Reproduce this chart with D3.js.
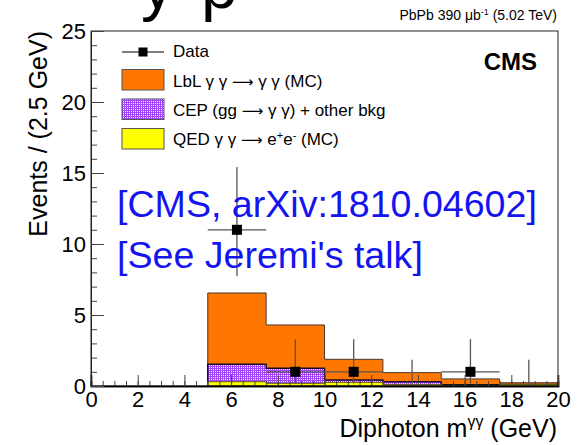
<!DOCTYPE html>
<html>
<head>
<meta charset="utf-8">
<script src="https://cdn.jsdelivr.net/npm/d3@7"></script>
<style>
  html, body { margin: 0; padding: 0; background: #fff; }
  svg { display: block; font-family: "Liberation Sans", Arial, Helvetica, sans-serif; }
</style>
</head>
<body>
<svg id="chart" width="581" height="445"></svg>
<script>
// Diphoton invariant mass, 2.5 GeV bins from 5 to 20 GeV
const binEdges = [5, 7.5, 10, 12.5, 15, 17.5, 20];
// stacked expectations (bottom to top)
const qedValues = [0.30, 0.19, 0.26, 0.09, 0.03, 0.10];
const cepValues = [1.23, 1.06, 0.16, 0.21, 0.05, 0.00];
const lblValues = [5.02, 3.05, 1.46, 0.64, 0.42, 0.13];
// observed events with Poisson (Garwood) intervals
const dataCounts = [11, 1, 1, 0, 1, 0];
const dataErrLow = [3.26, 0.83, 0.83, 0, 0.83, 0];
const dataErrHigh = [4.42, 2.30, 2.30, 1.84, 2.30, 1.84];

const xTicks = [0, 2, 4, 6, 8, 10, 12, 14, 16, 18, 20];
const yTicks = [0, 5, 10, 15, 20, 25];

const svg = d3.select("#chart");
const plot = { left: 91, right: 558, top: 31, bottom: 386 };

const x = d3.scaleLinear().domain([0, 20]).range([plot.left, plot.right]);
const y = d3.scaleLinear().domain([0, 25]).range([plot.bottom, plot.top]);

// dotted fill for the CEP component
const defs = svg.append("defs");
const pat = defs.append("pattern").attr("id", "cepFill")
  .attr("patternUnits", "userSpaceOnUse").attr("width", 2).attr("height", 2);
pat.append("rect").attr("width", 2).attr("height", 2).attr("fill", "#a245ff");
pat.append("rect").attr("x", 1).attr("y", 1).attr("width", 1).attr("height", 1).attr("fill", "#ffffff");

defs.append("clipPath").attr("id", "plotClip").append("rect")
  .attr("x", plot.left).attr("y", plot.top)
  .attr("width", plot.right - plot.left).attr("height", plot.bottom - plot.top);

// partial slide heading cut by the top edge
svg.append("text").attr("x", 141).attr("y", 8).attr("font-size", 66)
  .attr("fill", "#000").text("y");
svg.append("text").attr("x", 201).attr("y", 8).attr("font-size", 66)
  .attr("fill", "#000").text("p");

// cumulative stack layers
const cumQed = qedValues.slice();
const cumCep = qedValues.map((v, i) => v + cepValues[i]);
const cumAll = cumCep.map((v, i) => v + lblValues[i]);

function stepPath(tops) {
  const p = d3.path();
  p.moveTo(x(binEdges[0]), y(0));
  tops.forEach((v, i) => {
    p.lineTo(x(binEdges[i]), y(v));
    p.lineTo(x(binEdges[i + 1]), y(v));
  });
  p.lineTo(x(binEdges[binEdges.length - 1]), y(0));
  p.closePath();
  return p.toString();
}

const g = svg.append("g").attr("clip-path", "url(#plotClip)");
const layers = [
  { tops: cumAll, fill: "#ff7700", stroke: "#4a3a30", sw: 1 },
  { tops: cumCep, fill: "url(#cepFill)", stroke: "#1a0a2a", sw: 1.5 },
  { tops: cumQed, fill: "#ffff00", stroke: "#5a5a10", sw: 1 }
];
layers.forEach(l => {
  g.append("path").attr("d", stepPath(l.tops))
    .attr("fill", l.fill).attr("stroke", l.stroke).attr("stroke-width", l.sw);
});

// data points with error bars
const centers = binEdges.slice(0, -1).map((e, i) => (e + binEdges[i + 1]) / 2);
const dg = svg.append("g");
centers.forEach((c, i) => {
  const n = dataCounts[i];
  dg.append("line")
    .attr("x1", x(c)).attr("x2", x(c))
    .attr("y1", y(n - dataErrLow[i])).attr("y2", y(n + dataErrHigh[i]))
    .attr("stroke", "#555").attr("stroke-width", 1.3);
  if (n > 0) {
    dg.append("line")
      .attr("x1", x(binEdges[i])).attr("x2", x(binEdges[i + 1]))
      .attr("y1", y(n)).attr("y2", y(n))
      .attr("stroke", "#555").attr("stroke-width", 1.3);
    dg.append("rect")
      .attr("x", x(c) - 5).attr("y", y(n) - 5)
      .attr("width", 10).attr("height", 10).attr("fill", "#000");
  }
});

// frame
svg.append("rect")
  .attr("x", plot.left).attr("y", plot.top)
  .attr("width", plot.right - plot.left).attr("height", plot.bottom - plot.top)
  .attr("fill", "none").attr("stroke", "#222").attr("stroke-width", 1);

// axes with inward ticks
const xMinor = d3.range(0, 20.001, 0.5);
const yMinor = d3.range(0, 25.001, 1);
const fontAxis = "'Liberation Sans', Arial, sans-serif";

const xAxisG = svg.append("g").attr("transform", `translate(0,${plot.bottom})`);
xAxisG.call(d3.axisBottom(x).tickValues(xMinor).tickSize(-5).tickFormat(""));
xAxisG.append("g").call(d3.axisBottom(x).tickValues(xTicks).tickSize(-11).tickPadding(5)
  .tickFormat(d3.format("d")));
xAxisG.selectAll(".domain").attr("stroke", "#000").attr("stroke-width", 1.6);
xAxisG.selectAll(".tick line").attr("stroke", "#444");
xAxisG.selectAll("text").attr("font-size", 22).attr("fill", "#000").attr("font-family", fontAxis);

const yAxisG = svg.append("g").attr("transform", `translate(${plot.left},0)`);
yAxisG.call(d3.axisLeft(y).tickValues(yMinor).tickSize(-6).tickFormat(""));
yAxisG.append("g").call(d3.axisLeft(y).tickValues(yTicks).tickSize(-13).tickPadding(5)
  .tickFormat(d3.format("d")));
yAxisG.selectAll(".domain").attr("stroke", "#222");
yAxisG.selectAll(".tick line").attr("stroke", "#444");
yAxisG.selectAll("text").attr("font-size", 22).attr("fill", "#000").attr("font-family", fontAxis);

// axis titles
const xt = svg.append("text").attr("x", 557).attr("y", 437)
  .attr("text-anchor", "end").attr("font-size", 25).attr("fill", "#000");
xt.append("tspan").text("Diphoton m");
xt.append("tspan").attr("dy", -10).attr("font-size", 16).text("γγ");
xt.append("tspan").attr("dy", 10).text(" (GeV)");

svg.append("text")
  .attr("transform", "translate(47,31) rotate(-90)")
  .attr("text-anchor", "end").attr("font-size", 25).attr("fill", "#000")
  .text("Events / (2.5 GeV)");

// header
const hdr = svg.append("text").attr("x", 557).attr("y", 20)
  .attr("text-anchor", "end").attr("font-size", 14).attr("fill", "#000");
hdr.append("tspan").text("PbPb 390 μb");
hdr.append("tspan").attr("dy", -5).attr("font-size", 9).text("-1");
hdr.append("tspan").attr("dy", 5).text(" (5.02 TeV)");

svg.append("text").attr("x", 537).attr("y", 70).attr("text-anchor", "end")
  .attr("font-size", 24).attr("font-weight", "bold").attr("fill", "#000").text("CMS");

// legend
const lx = 122, lw = 42;
const leg = svg.append("g");
leg.append("line").attr("x1", lx).attr("x2", lx + lw).attr("y1", 52).attr("y2", 52)
  .attr("stroke", "#000").attr("stroke-width", 1.2);
leg.append("rect").attr("x", lx + lw / 2 - 4.5).attr("y", 47.5).attr("width", 9).attr("height", 9).attr("fill", "#000");
const boxes = [
  { y: 69.5, fill: "#ff7700" },
  { y: 99, fill: "url(#cepFill)" },
  { y: 128.5, fill: "#ffff00" }
];
boxes.forEach(b => {
  leg.append("rect").attr("x", lx).attr("y", b.y).attr("width", lw).attr("height", 20.5)
    .attr("fill", b.fill).attr("stroke", "#555").attr("stroke-width", 1);
});

// legend entries: plain strings and arrows set in a symbol-capable face
const arrowFont = "'DejaVu Sans', sans-serif";
const legendEntries = [
  [["Data"]],
  [["LbL γ γ "], ["⟶", "arrow"], [" γ γ (MC)"]],
  [["CEP (gg "], ["⟶", "arrow"], [" γ γ) + other bkg"]],
  [["QED γ γ "], ["⟶", "arrow"], [" e"], ["+", "sup"], ["e"], ["-", "sup"], [" (MC)"]]
];
const legY = [57, 87, 116, 145];
legendEntries.forEach((parts, i) => {
  const tx = leg.append("text").attr("x", 173).attr("y", legY[i])
    .attr("font-size", 17).attr("fill", "#000");
  parts.forEach(([s, kind]) => {
    const ts = tx.append("tspan").text(s);
    if (kind === "arrow") ts.attr("font-family", arrowFont).attr("font-size", 15);
    if (kind === "sup") ts.attr("font-size", 11).attr("baseline-shift", "super");
  });
});

// annotation
svg.append("text").attr("x", 117).attr("y", 217).attr("font-size", 37.6)
  .attr("fill", "#1414f0").text("[CMS, arXiv:1810.04602]");
svg.append("text").attr("x", 117).attr("y", 268).attr("font-size", 37.6)
  .attr("fill", "#1414f0").text("[See Jeremi's talk]");
</script>
</body>
</html>
